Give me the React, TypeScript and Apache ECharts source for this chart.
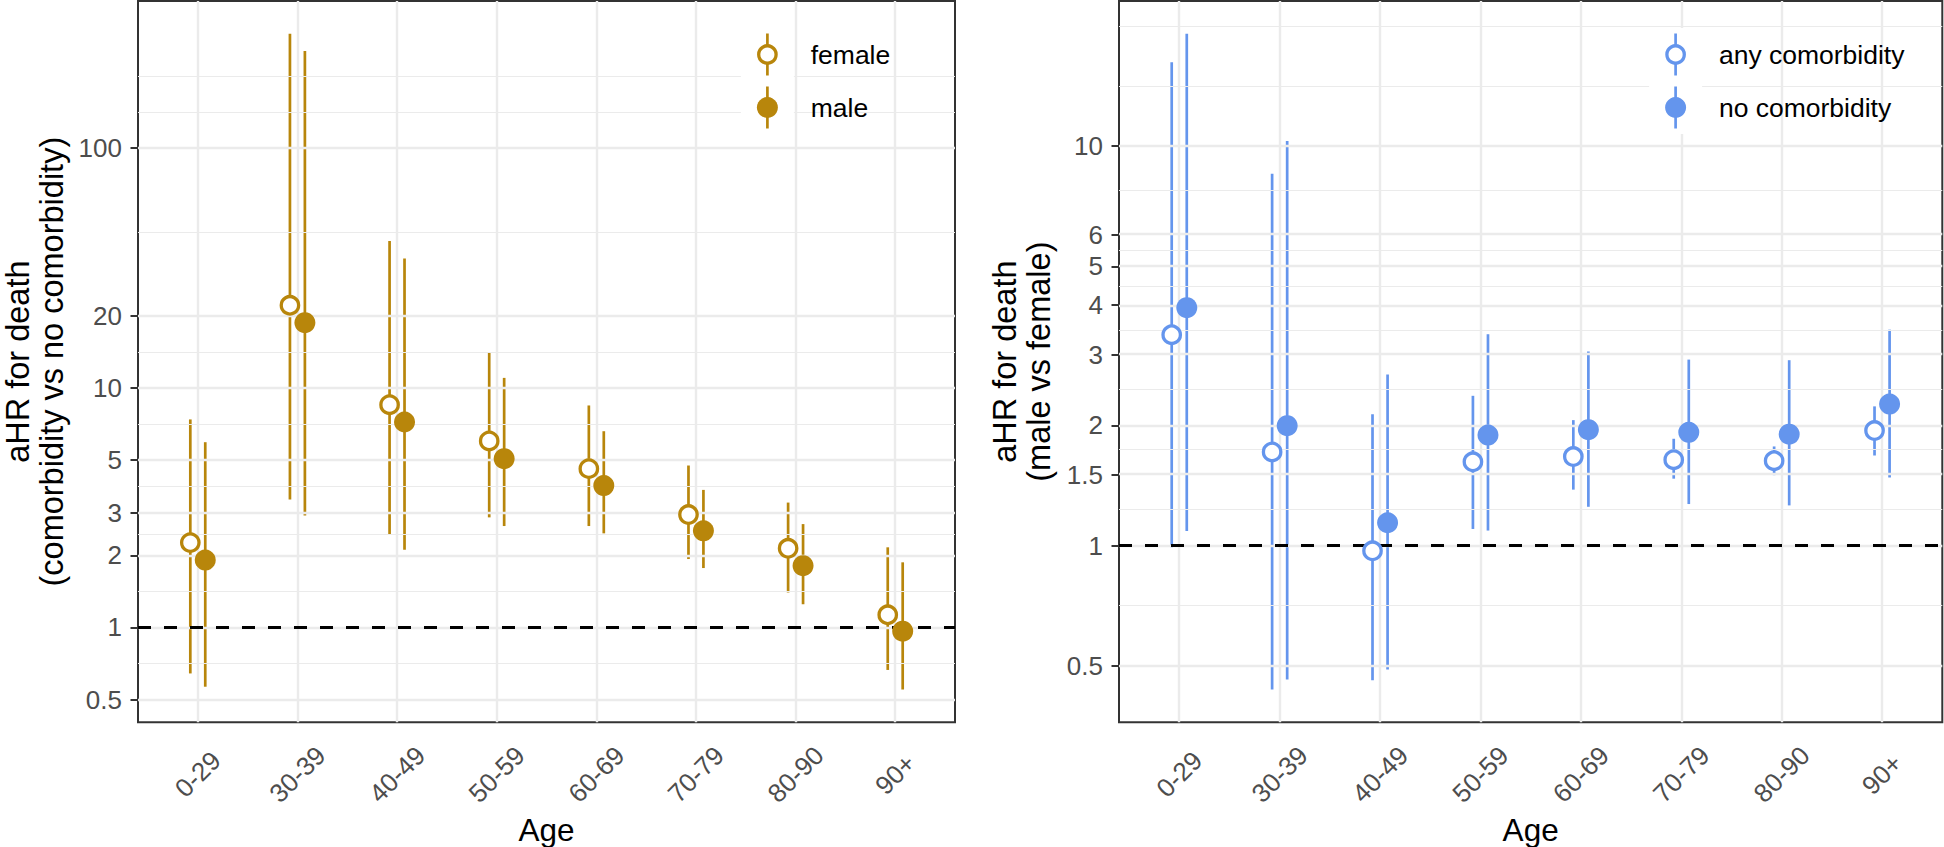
import React, { useEffect, useRef } from "react";
import * as echarts from "echarts";

// ---------- data ----------
const ageGroups = ["0-29", "30-39", "40-49", "50-59", "60-69", "70-79", "80-90", "90+"];

// Left panel: aHR for death (comorbidity vs no comorbidity)
const femaleEst = [2.26, 22.1, 8.5, 6.0, 4.6, 2.96, 2.14, 1.13];
const femaleLow = [0.643, 3.42, 2.43, 2.88, 2.65, 1.93, 1.4, 0.665];
const femaleHigh = [7.38, 300, 41.0, 14.1, 8.44, 4.74, 3.32, 2.16];
const maleEst = [1.91, 18.7, 7.2, 5.06, 3.91, 2.53, 1.81, 0.965];
const maleLow = [0.566, 2.93, 2.11, 2.65, 2.47, 1.77, 1.25, 0.551];
const maleHigh = [5.93, 254, 34.6, 11.0, 6.59, 3.75, 2.7, 1.87];

// Right panel: aHR for death (male vs female)
const anyEst = [3.37, 1.715, 0.97, 1.62, 1.67, 1.64, 1.63, 1.94];
const anyLow = [0.99, 0.436, 0.46, 1.1, 1.38, 1.47, 1.5, 1.68];
const anyHigh = [16.2, 8.53, 2.13, 2.37, 2.06, 1.85, 1.77, 2.23];
const noEst = [3.94, 1.995, 1.14, 1.89, 1.95, 1.92, 1.9, 2.26];
const noLow = [1.087, 0.462, 0.489, 1.09, 1.25, 1.27, 1.26, 1.48];
const noHigh = [19.1, 10.3, 2.68, 3.38, 3.06, 2.92, 2.91, 3.47];

const leftBreaks = [0.5, 1, 2, 3, 5, 10, 20, 100];
const rightBreaks = [0.5, 1, 1.5, 2, 3, 4, 5, 6, 10];

const leftLegend = ["female", "male"];
const rightLegend = ["any comorbidity", "no comorbidity"];
const leftTitle = "aHR for death\n(comorbidity vs no comorbidity)";
const rightTitle = "aHR for death\n(male vs female)";
const xTitle = "Age";

// ---------- styling ----------
const GOLD = "#B8860B";
const BLUE = "#6495ED";
const FONT = "'Liberation Sans', Arial, Helvetica, sans-serif";
const GRID_COLOR = "#EBEBEB";
const DODGE = 0.075;
const TICK_FONT = 26;
const TITLE_FONT = 32.5;
const X_TITLE_FONT = 31.5;
const LEGEND_FONT = 26.5;

const xs = ageGroups.map((_, i) => i + 1);

function logLimits(lows: number[], highs: number[]) {
  const a = Math.min(...lows.map(Math.log10));
  const b = Math.max(...highs.map(Math.log10));
  const d = (b - a) * 0.05;
  return [a - d, b + d];
}

function minorLog(breaks: number[], lim: number[]) {
  const b = breaks.map(Math.log10);
  const bd = b[1] - b[0];
  if (lim[0] < b[0]) b.unshift(b[0] - bd);
  if (lim[1] > b[b.length - 1]) b.push(b[b.length - 1] + bd);
  const out: number[] = [];
  for (let i = 0; i < b.length - 1; i++) out.push((b[i] + b[i + 1]) / 2);
  out.push(b[b.length - 1]);
  out.push(b[0]);
  const majors = breaks.map(Math.log10);
  return out.filter(
    (v) => v >= lim[0] && v <= lim[1] && !majors.some((m) => Math.abs(m - v) < 1e-9)
  );
}

function buildPanel(
  idx: number,
  breaks: number[],
  est1: number[], lo1: number[], hi1: number[],
  est2: number[], lo2: number[], hi2: number[],
  color: string,
  names: string[],
  title: string,
  nameGap: number
) {
  const lim = logLimits([...lo1, ...lo2], [...hi1, ...hi2]);
  const majors = breaks.map(Math.log10);
  const minors = minorLog(breaks, lim);
  const labelFor = (v: number) => {
    const k = majors.findIndex((m) => Math.abs(m - v) < 1e-6);
    return k >= 0 ? String(breaks[k]) : "";
  };

  const xAxis = {
    type: "value",
    gridIndex: idx,
    min: 0.4,
    max: ageGroups.length + 0.6,
    axisLine: { show: false },
    splitLine: { show: false },
    axisTick: {
      show: true,
      length: 7.5,
      customValues: xs,
      lineStyle: { color: "#333333", width: 2 },
    },
    axisLabel: {
      customValues: xs,
      formatter: (v: number) => ageGroups[Math.round(v) - 1] ?? "",
      rotate: 45,
      align: "center",
      verticalAlign: "middle",
      margin: 52,
      fontSize: TICK_FONT,
      color: "#4D4D4D",
      fontFamily: FONT,
    },
    name: xTitle,
    nameLocation: "middle",
    nameGap: 88,
    nameTextStyle: { fontSize: X_TITLE_FONT, lineHeight: 32, color: "#000", fontFamily: FONT },
  };

  const yAxis = {
    type: "value",
    gridIndex: idx,
    min: lim[0],
    max: lim[1],
    axisLine: { show: false },
    splitLine: { show: false },
    axisTick: {
      show: true,
      length: 7.5,
      customValues: majors,
      lineStyle: { color: "#333333", width: 2 },
    },
    axisLabel: {
      customValues: majors,
      formatter: labelFor,
      margin: 16,
      fontSize: TICK_FONT,
      color: "#4D4D4D",
      fontFamily: FONT,
    },
    name: title,
    nameLocation: "middle",
    nameRotate: 90,
    nameGap,
    nameTextStyle: { fontSize: TITLE_FONT, lineHeight: 34, color: "#000", fontFamily: FONT },
  };

  const common = { xAxisIndex: idx, yAxisIndex: idx };

  const errorBar = (est: number[], lo: number[], hi: number[], off: number, name: string) => ({
    type: "custom",
    name: name + " CI",
    ...common,
    z: 4,
    silent: true,
    encode: { x: 0, y: [1, 2] },
    data: est.map((_, i) => [xs[i] + off, Math.log10(lo[i]), Math.log10(hi[i])]),
    renderItem: (params: any, api: any) => {
      const x = api.value(0);
      const p1 = api.coord([x, api.value(1)]);
      const p2 = api.coord([x, api.value(2)]);
      return {
        type: "line",
        shape: { x1: p1[0], y1: p1[1], x2: p2[0], y2: p2[1] },
        style: { stroke: color, lineWidth: 2.7 },
      };
    },
  });

  const series = [
    {
      type: "line",
      ...common,
      data: [],
      silent: true,
      z: 1,
      markLine: {
        silent: true,
        symbol: ["none", "none"],
        label: { show: false },
        emphasis: { disabled: true },
        lineStyle: { color: GRID_COLOR, width: 1.2, type: "solid" },
        data: minors.map((v) => ({ yAxis: v })),
      },
    },
    {
      type: "line",
      ...common,
      data: [],
      silent: true,
      z: 1,
      markLine: {
        silent: true,
        symbol: ["none", "none"],
        label: { show: false },
        emphasis: { disabled: true },
        lineStyle: { color: GRID_COLOR, width: 2.4, type: "solid" },
        data: [...majors.map((v) => ({ yAxis: v })), ...xs.map((x) => ({ xAxis: x }))],
      },
    },
    {
      type: "line",
      ...common,
      data: [],
      silent: true,
      z: 3,
      markLine: {
        silent: true,
        symbol: ["none", "none"],
        label: { show: false },
        emphasis: { disabled: true },
        lineStyle: { color: "#000000", width: 3, type: [13, 13] },
        data: [{ yAxis: 0 }],
      },
    },
    errorBar(est1, lo1, hi1, -DODGE, names[0]),
    errorBar(est2, lo2, hi2, DODGE, names[1]),
    {
      type: "scatter",
      name: names[0],
      ...common,
      z: 5,
      symbol: "circle",
      symbolSize: 17.4,
      itemStyle: { color: "#ffffff", borderColor: color, borderWidth: 3.3, opacity: 1 },
      data: est1.map((v, i) => [xs[i] - DODGE, Math.log10(v)]),
    },
    {
      type: "scatter",
      name: names[1],
      ...common,
      z: 5,
      symbol: "circle",
      symbolSize: 21,
      itemStyle: { color, opacity: 1 },
      data: est2.map((v, i) => [xs[i] + DODGE, Math.log10(v)]),
    },
  ];

  return { xAxis, yAxis, series };
}

function legendGraphics(keyX: number, color: string, names: string[]) {
  const ys = [54.5, 107.5];
  const els: any[] = [];
  ys.forEach((cy, k) => {
    els.push({
      type: "rect",
      z: 100,
      shape: { x: keyX - 26.5, y: cy - 26.5, width: 53, height: 53 },
      style: { fill: "#ffffff" },
    });
    els.push({
      type: "line",
      z: 101,
      shape: { x1: keyX, y1: cy - 21, x2: keyX, y2: cy + 21 },
      style: { stroke: color, lineWidth: 2.7 },
    });
    els.push(
      k === 0
        ? {
            type: "circle",
            z: 102,
            shape: { cx: keyX, cy, r: 8.7 },
            style: { fill: "#ffffff", stroke: color, lineWidth: 3.3 },
          }
        : {
            type: "circle",
            z: 102,
            shape: { cx: keyX, cy, r: 10.5 },
            style: { fill: color },
          }
    );
    els.push({
      type: "text",
      z: 102,
      x: keyX + 43.3,
      y: cy,
      style: {
        text: names[k],
        fill: "#000000",
        fontSize: LEGEND_FONT,
        fontFamily: FONT,
        textAlign: "left",
        textVerticalAlign: "middle",
      },
    });
  });
  return els;
}

export default function App() {
  const ref = useRef<HTMLDivElement>(null);

  useEffect(() => {
    if (!ref.current) return;
    const chart = echarts.init(ref.current, null, { renderer: "svg" });

    const left = buildPanel(
      0, leftBreaks,
      femaleEst, femaleLow, femaleHigh,
      maleEst, maleLow, maleHigh,
      GOLD, leftLegend, leftTitle, 69
    );
    const right = buildPanel(
      1, rightBreaks,
      anyEst, anyLow, anyHigh,
      noEst, noLow, noHigh,
      BLUE, rightLegend, rightTitle, 63.5
    );

    const gridBase = {
      top: 1,
      height: 721.3,
      show: true,
      borderColor: "#333333",
      borderWidth: 2,
      backgroundColor: "#ffffff",
      containLabel: false,
      outerBoundsMode: "none",
    };

    const option: any = {
      animation: false,
      backgroundColor: "#ffffff",
      textStyle: { fontFamily: FONT },
      grid: [
        { ...gridBase, left: 138, width: 817 },
        { ...gridBase, left: 1119, width: 823.3 },
      ],
      xAxis: [left.xAxis, right.xAxis],
      yAxis: [left.yAxis, right.yAxis],
      series: [...left.series, ...right.series],
      graphic: [
        ...legendGraphics(767.4, GOLD, leftLegend),
        ...legendGraphics(1675.6, BLUE, rightLegend),
      ],
    };

    chart.setOption(option);
    return () => chart.dispose();
  }, []);

  return (
    <div
      ref={ref}
      style={{ position: "absolute", left: 0, top: 0, width: 1944, height: 847 }}
    />
  );
}
